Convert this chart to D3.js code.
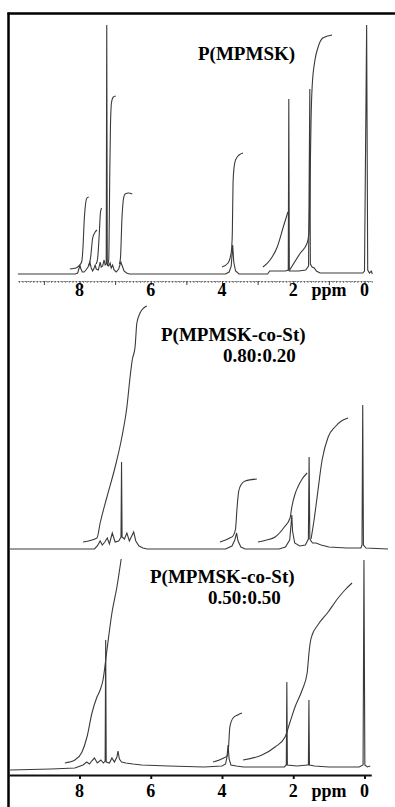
<!DOCTYPE html>
<html>
<head>
<meta charset="utf-8">
<script src="https://cdn.jsdelivr.net/npm/d3@7"></script>
<style>
  body { margin: 0; background: #fff; }
  svg { display: block; }
</style>
</head>
<body>
<script>
// chemical shift labels (ppm)
const tickLabels = [8, 6, 4, 2, 0];

// P(MPMSK): spectrum trace, [ppm, intensity]
const homoSpectrum = [
  [9.73, 0], [8.12, 0], [8.05, 1], [8.01, 6], [7.99, 9], [7.96, 5], [7.92, 2], [7.87, 2],
  [7.82, 4], [7.76, 7], [7.71, 12], [7.67, 6], [7.63, 3], [7.59, 6], [7.56, 9], [7.53, 5],
  [7.47, 4], [7.42, 12], [7.39, 7], [7.35, 8], [7.31, 14], [7.28, 9], [7.25, 10], [7.235, 249],
  [7.22, 10], [7.18, 8], [7.14, 11], [7.11, 6], [7.07, 9], [7.03, 4], [6.97, 2], [6.9, 5],
  [6.84, 12], [6.8, 8], [6.75, 3], [6.68, 1], [6.6, 0],
  [3.9, 0], [3.8, 2], [3.74, 8], [3.7, 29], [3.67, 12], [3.62, 3], [3.52, 0],
  [2.72, 0], [2.66, 3], [2.22, 3], [2.14, 4], [2.125, 175], [2.11, 3], [1.85, 3], [1.65, 4],
  [1.57, 8], [1.535, 185], [1.52, 10], [1.47, 7], [1.41, 6], [1.35, 3], [1.25, 1], [0.5, 1],
  [0.05, 1], [0.0, 3], [-0.06, 249], [-0.09, 4], [-0.14, 1], [-0.19, 3], [-0.22, 0]
];
// P(MPMSK): integral curves
const homoIntegrals = [
  [[8.27, 5], [8.1, 6], [8.02, 8], [7.94, 12], [7.9, 28], [7.87, 52], [7.83, 70], [7.79, 76], [7.74, 77]],
  [[7.74, 8], [7.69, 16], [7.63, 36], [7.56, 42], [7.51, 44]],
  [[7.53, 10], [7.49, 16], [7.45, 37], [7.41, 62], [7.38, 66]],
  [[7.22, 8], [7.18, 14], [7.15, 100], [7.13, 150], [7.1, 172], [7.05, 177], [6.98, 178]],
  [[6.88, 10], [6.85, 16], [6.81, 54], [6.77, 74], [6.72, 80], [6.62, 81], [6.52, 80]],
  [[4.0, 7], [3.83, 11], [3.74, 22], [3.71, 41], [3.69, 91], [3.66, 107], [3.62, 114], [3.52, 119], [3.41, 121]],
  [[2.85, 7], [2.65, 14], [2.45, 27], [2.28, 47], [2.15, 62]],
  [[2.1, 4], [1.8, 21], [1.61, 31], [1.56, 41], [1.52, 110], [1.5, 154], [1.47, 187], [1.39, 214],
   [1.31, 226], [1.17, 236], [0.91, 239]]
];

// P(MPMSK-co-St) 0.80:0.20
const co80Spectrum = [
  [9.95, 0], [7.58, 0], [7.5, 3], [7.42, 8], [7.36, 4], [7.29, 7], [7.22, 11], [7.16, 5],
  [7.08, 16], [7.0, 7], [6.9, 8], [6.835, 12], [6.82, 87], [6.805, 12], [6.74, 10], [6.67, 16],
  [6.6, 8], [6.48, 17], [6.42, 8], [6.33, 3], [6.22, 1], [6.1, 0],
  [3.9, 0], [3.72, 3], [3.64, 9], [3.59, 16], [3.55, 8], [3.47, 2], [3.35, 0],
  [2.4, 0], [2.22, 2], [2.1, 9], [2.06, 25], [2.04, 34], [2.02, 18], [1.96, 6], [1.82, 3],
  [1.66, 4], [1.575, 10], [1.555, 92], [1.535, 10], [1.46, 6], [1.36, 6], [1.22, 4], [1.0, 2],
  [0.5, 1], [0.1, 1], [0.07, 4], [0.05, 144], [0.03, 4], [-0.04, 1], [-0.66, 0]
];
const co80Integrals = [
  [[7.9, 7], [7.51, 11], [7.42, 26], [7.23, 52], [7.0, 82], [6.81, 112], [6.67, 142], [6.58, 172],
   [6.52, 189], [6.44, 202], [6.39, 226], [6.3, 236], [6.2, 241], [6.11, 243]],
  [[4.06, 7], [3.78, 11], [3.69, 13], [3.62, 20], [3.58, 40], [3.53, 58], [3.45, 65], [3.35, 68], [3.02, 70]],
  [[2.99, 7], [2.75, 9], [2.51, 12], [2.25, 22], [2.09, 31], [2.04, 42], [1.95, 55], [1.87, 62], [1.75, 70], [1.61, 76]],
  [[1.5, 10], [1.42, 28], [1.33, 52], [1.19, 89], [1.02, 112], [0.83, 122], [0.65, 128], [0.46, 131]]
];

// P(MPMSK-co-St) 0.50:0.50
const co50Spectrum = [
  [9.95, -1], [8.8, 0], [8.13, 1], [7.9, 4], [7.8, 7], [7.72, 5], [7.66, 8], [7.58, 11],
  [7.5, 6], [7.4, 9], [7.33, 6], [7.28, 8], [7.265, 129], [7.25, 7], [7.16, 6], [7.09, 11],
  [7.02, 7], [6.95, 12], [6.92, 18], [6.88, 10], [6.82, 7], [6.7, 6], [6.5, 5], [6.25, 4],
  [5.5, 3], [4.5, 2], [4.0, 3], [3.9, 5], [3.86, 12], [3.83, 24], [3.8, 10], [3.75, 4],
  [3.6, 3], [3.4, 2], [2.9, 2], [2.25, 2], [2.195, 4], [2.18, 87], [2.165, 4], [1.9, 3],
  [1.6, 4], [1.575, 4], [1.56, 69], [1.545, 4], [1.4, 3], [1.0, 2], [0.5, 2], [0.15, 2],
  [0.04, 4], [0.015, 209], [-0.01, 4], [-0.08, 2], [-0.16, 3]
];
const co50Integrals = [
  [[8.41, 6], [8.13, 9], [7.93, 17], [7.79, 32], [7.65, 56], [7.51, 72], [7.42, 79], [7.34, 89],
   [7.23, 119], [7.09, 156], [6.95, 182], [6.83, 210]],
  [[4.25, 7], [3.95, 11], [3.86, 13], [3.82, 20], [3.78, 42], [3.69, 51], [3.56, 54], [3.44, 56]],
  [[3.41, 9], [2.88, 14], [2.51, 22], [2.23, 32], [2.09, 47], [1.95, 62], [1.75, 79], [1.61, 96],
   [1.55, 119], [1.51, 129], [1.47, 134], [1.31, 144], [1.02, 157], [0.74, 171], [0.55, 179], [0.35, 186]]
];

const homoTitle = ['P(MPMSK)'];
const co80Title = ['P(MPMSK-co-St)', '0.80:0.20'];
const co50Title = ['P(MPMSK-co-St)', '0.50:0.50'];

const width = 395;
const height = 807;
const serif = "'Liberation Serif', 'Times New Roman', serif";
const lineColor = '#3a3a3a';

// ppm axis, shared by all three traces (reversed, high ppm on the left)
const x = d3.scaleLinear().domain([8, 0]).range([79.5, 364.5]);

// stacked panels: baseline position and title anchors
const panels = [
  { spectrum: homoSpectrum, integrals: homoIntegrals, title: homoTitle, baseline: 274,
    titleX: [198], titleY: [60] },
  { spectrum: co80Spectrum, integrals: co80Integrals, title: co80Title, baseline: 549,
    titleX: [161, 223], titleY: [341, 362] },
  { spectrum: co50Spectrum, integrals: co50Integrals, title: co50Title, baseline: 769,
    titleX: [150, 208], titleY: [583, 604] }
];

const svg = d3
  .select('body')
  .append('svg')
  .attr('width', width)
  .attr('height', height)
  .attr('viewBox', `0 0 ${width} ${height}`);

svg.append('rect').attr('width', width).attr('height', height).attr('fill', '#fff');

// frame (top + left edges)
svg.append('line')
  .attr('x1', 7.5).attr('x2', width).attr('y1', 13.5).attr('y2', 13.5)
  .attr('stroke', '#000').attr('stroke-width', 2.5);
svg.append('line')
  .attr('x1', 8.5).attr('x2', 8.5).attr('y1', 12.5).attr('y2', height)
  .attr('stroke', '#000').attr('stroke-width', 2.5);

panels.forEach(p => {
  const y = d3.scaleLinear().domain([0, 250]).range([p.baseline, p.baseline - 250]);
  const g = svg.append('g');

  const trace = d3.line()
    .x(d => x(d[0]))
    .y(d => y(d[1]));

  const integral = d3.line()
    .x(d => x(d[0]))
    .y(d => y(d[1]))
    .curve(d3.curveMonotoneX);

  g.append('path')
    .datum(p.spectrum)
    .attr('d', trace)
    .attr('fill', 'none')
    .attr('stroke', lineColor)
    .attr('stroke-width', 1.1);

  g.selectAll('.integral')
    .data(p.integrals)
    .enter()
    .append('path')
    .attr('class', 'integral')
    .attr('d', integral)
    .attr('fill', 'none')
    .attr('stroke', lineColor)
    .attr('stroke-width', 1.1);

  // sample label
  g.selectAll('.title')
    .data(p.title)
    .enter()
    .append('text')
    .attr('class', 'title')
    .attr('x', (d, i) => p.titleX[i])
    .attr('y', (d, i) => p.titleY[i])
    .attr('font-family', serif)
    .attr('font-weight', 'bold')
    .attr('font-size', 19)
    .text(d => d);
});

// top ppm scale: fine dotted comb under the first trace
const xTop = d3.scaleLinear().domain([9.73, -0.22]).range([x(9.73), x(-0.22)]);
const minorTicks = d3.range(-2, 98).map(i => i / 10);
const majorTicks = d3.range(0, 10);

svg.append('g')
  .attr('transform', 'translate(0,281)')
  .call(d3.axisBottom(xTop).tickValues(minorTicks).tickSize(2).tickSizeOuter(0).tickFormat(''))
  .call(a => a.selectAll('line').attr('stroke', '#666').attr('stroke-width', 0.8))
  .call(a => a.select('.domain').attr('stroke', '#777').attr('stroke-dasharray', '2,1'));

svg.append('g')
  .attr('transform', 'translate(0,281)')
  .call(d3.axisBottom(xTop).tickValues(majorTicks).tickSize(4).tickSizeOuter(0).tickFormat(''))
  .call(a => a.select('.domain').remove())
  .call(a => a.selectAll('line').attr('stroke', '#444'));

// bottom ppm scale: solid line
const xBottom = d3.scaleLinear().domain([9.98, -0.19]).range([x(9.98), x(-0.19)]);
svg.append('g')
  .attr('transform', 'translate(0,775)')
  .call(d3.axisBottom(xBottom).tickValues(tickLabels).tickSize(4).tickSizeOuter(0).tickFormat(''))
  .call(a => a.select('.domain').attr('stroke', '#111').attr('stroke-width', 2.2))
  .call(a => a.selectAll('line').attr('stroke', '#111').attr('stroke-width', 2));

// tick labels for both scales
[296, 797].forEach(ly => {
  svg.append('g')
    .selectAll('text')
    .data(tickLabels)
    .enter()
    .append('text')
    .attr('x', d => x(d))
    .attr('y', ly)
    .attr('text-anchor', 'middle')
    .attr('font-family', serif)
    .attr('font-weight', 'bold')
    .attr('font-size', 18)
    .text(d => d);

  svg.append('text')
    .attr('x', 329)
    .attr('y', ly)
    .attr('text-anchor', 'middle')
    .attr('font-family', serif)
    .attr('font-weight', 'bold')
    .attr('font-size', 18)
    .text('ppm');
});
</script>
</body>
</html>
